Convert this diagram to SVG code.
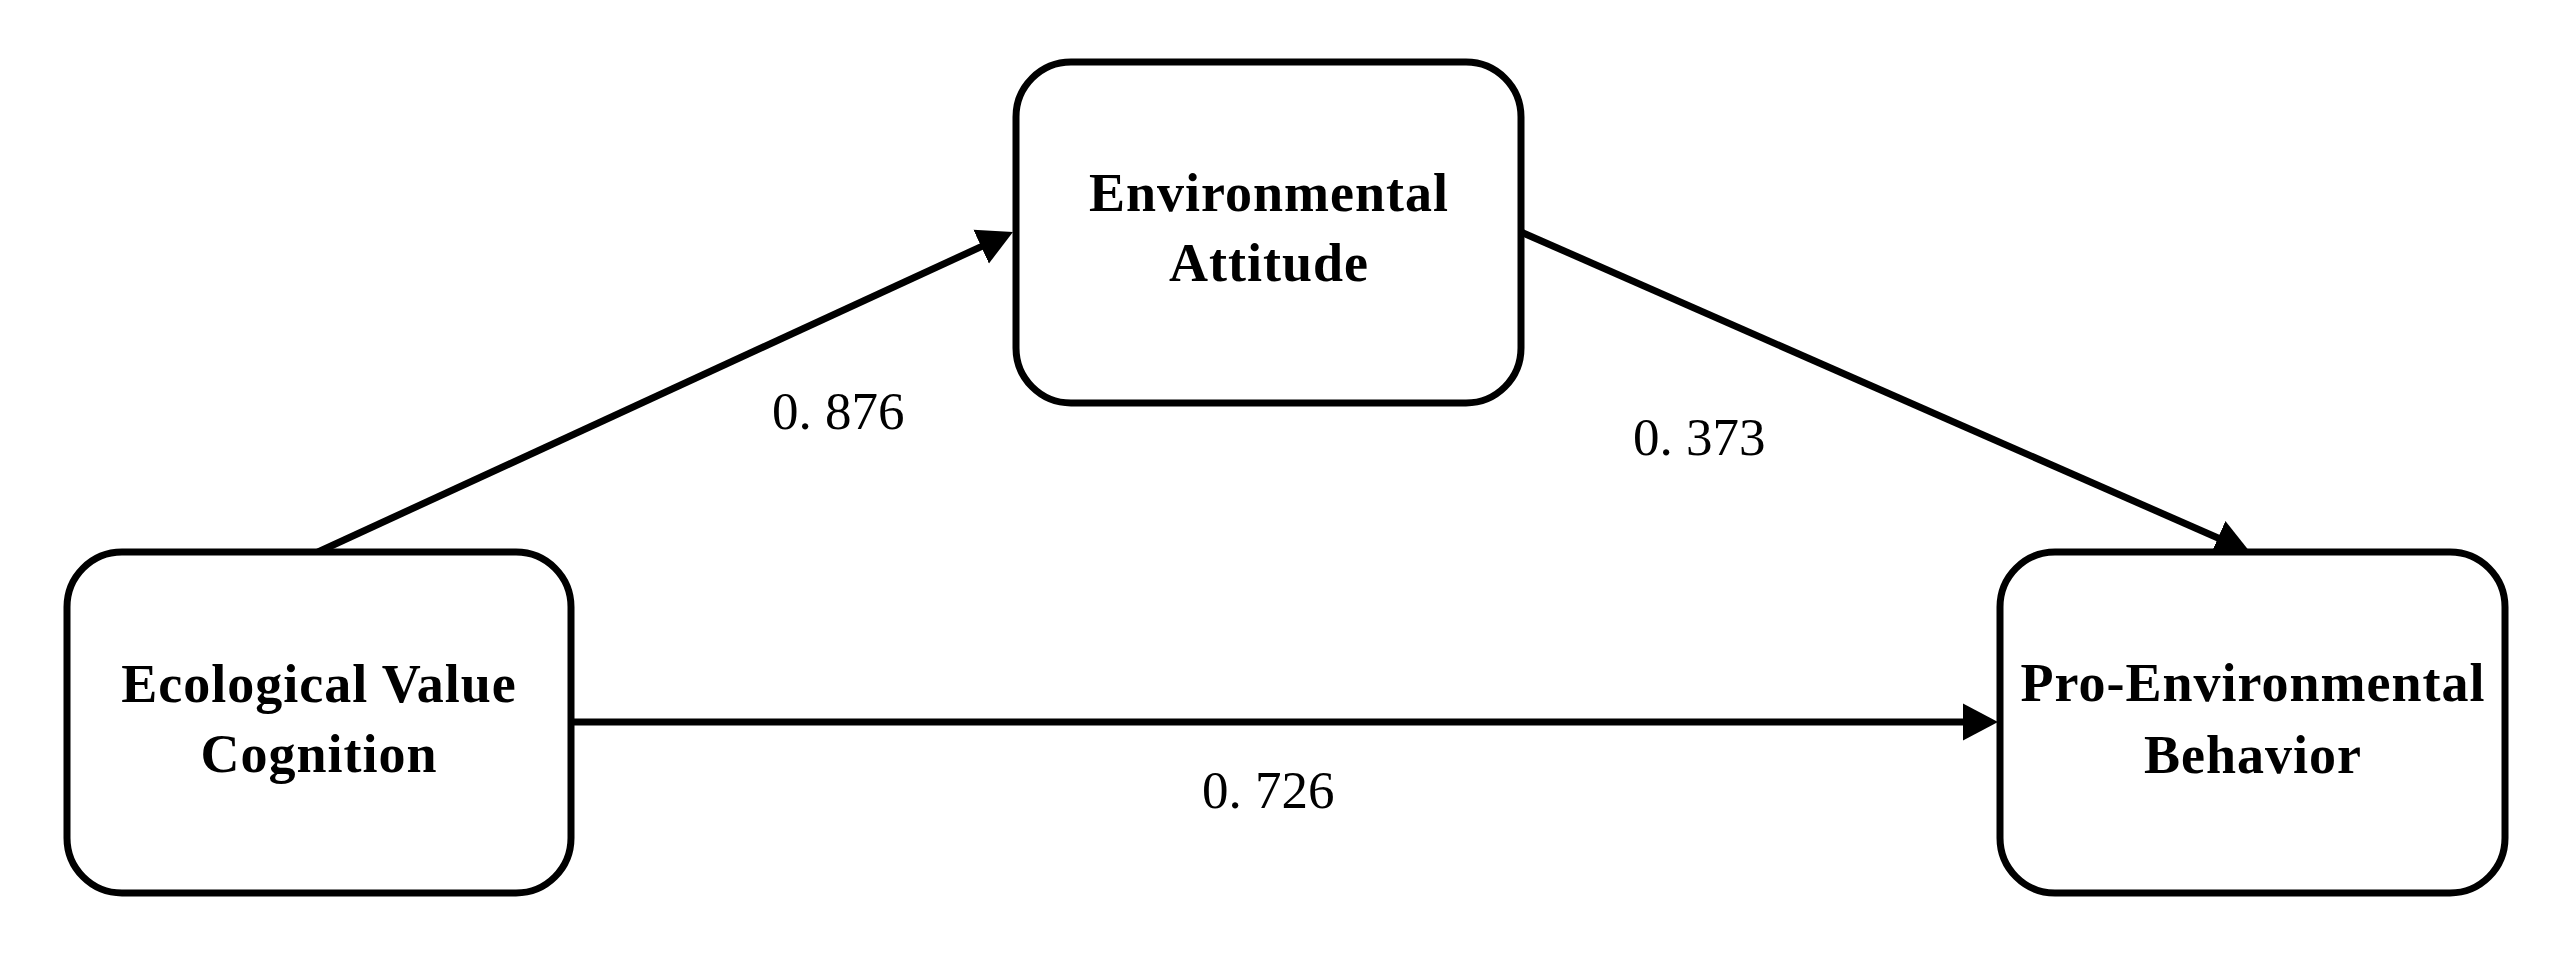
<svg xmlns="http://www.w3.org/2000/svg" width="2561" height="953" viewBox="0 0 2561 953">
<style>
.box{fill:#fff;stroke:#000;stroke-width:7}
.lbl{font-family:"Liberation Serif","Times New Roman",serif;font-weight:bold;font-size:54px;letter-spacing:1px;text-anchor:middle;fill:#000}
.num{font-family:"Liberation Serif","Times New Roman",serif;font-size:53px;fill:#000}
.conn{stroke:#000;stroke-width:7;fill:none;marker-end:url(#arr)}
</style>
<defs>
<marker id="arr" markerUnits="userSpaceOnUse" markerWidth="36" markerHeight="38" refX="15" refY="18.5" orient="auto" viewBox="0 0 36 37">
<path d="M0,0 L35,18.5 L0,37 Z" fill="#000"/>
</marker>
</defs>
<rect width="2561" height="953" fill="#fff"/>
<g id="connectors">
<line class="conn" x1="318" y1="552" x2="994.8" y2="240.4"/>
<line class="conn" x1="1521" y1="232" x2="2231.7" y2="544"/>
<line class="conn" x1="571" y1="722" x2="1978" y2="722"/>
<text class="num" x="772" y="429">0. 876</text>
<text class="num" x="1633" y="455">0. 373</text>
<text class="num" x="1202" y="808">0. 726</text>
</g>
<g id="node-attitude">
<rect class="box" x="1016" y="62" width="505" height="341" rx="55"/>
<text class="lbl" x="1269" y="211">Environmental</text>
<text class="lbl" x="1269" y="281">Attitude</text>
</g>
<g id="node-cognition">
<rect class="box" x="67" y="552" width="504" height="341" rx="55"/>
<text class="lbl" x="319" y="702">Ecological Value</text>
<text class="lbl" x="319" y="772">Cognition</text>
</g>
<g id="node-behavior">
<rect class="box" x="2000" y="552" width="505" height="341" rx="55"/>
<text class="lbl" x="2253" y="701">Pro-Environmental</text>
<text class="lbl" x="2253" y="773">Behavior</text>
</g>
</svg>
